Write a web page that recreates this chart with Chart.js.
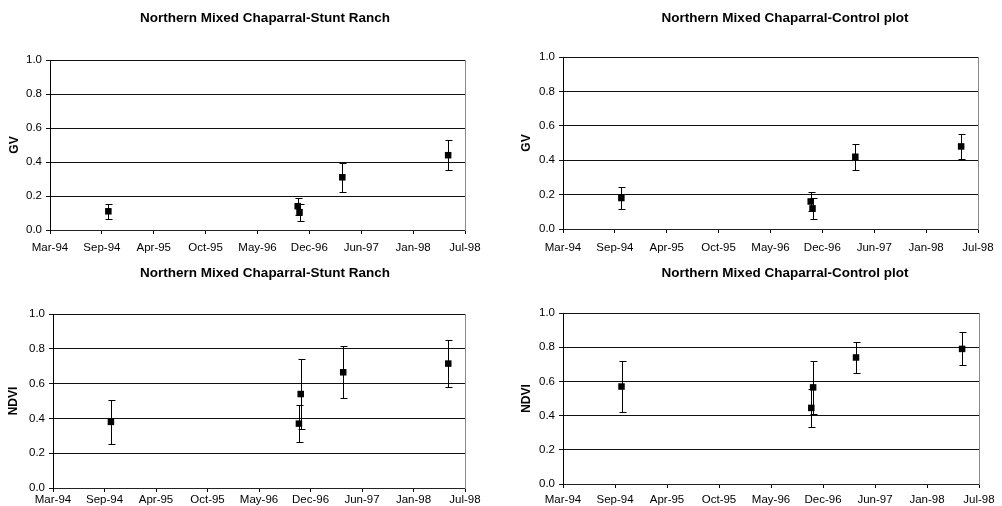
<!DOCTYPE html>
<html>
<head>
<meta charset="utf-8">
<script src="https://cdn.jsdelivr.net/npm/chart.js@4.4.1/dist/chart.umd.min.js"></script>
<style>
  html, body { margin: 0; padding: 0; background: #fff; overflow: hidden; }
  body { position: relative; width: 1002px; height: 506px; }
  canvas { position: absolute; }
</style>
</head>
<body>
<canvas id="gvStunt" width="530" height="262" style="left:0;top:0"></canvas>
<canvas id="gvControl" width="550" height="262" style="left:510px;top:0"></canvas>
<canvas id="ndviStunt" width="530" height="250" style="left:0;top:256px"></canvas>
<canvas id="ndviControl" width="550" height="250" style="left:510px;top:256px"></canvas>
<script>
// sampling dates (same five visits for every panel)
const sampleDates = ['1994-10-18', '1996-10-17', '1996-10-24', '1997-04-07', '1998-05-20'];

// GV, Stunt Ranch
const gvStuntMean = [0.11, 0.14, 0.105, 0.31, 0.44];
const gvStuntErr = [0.045, 0.05, 0.05, 0.085, 0.088];

// GV, control plot
const gvControlMean = [0.18, 0.16, 0.12, 0.42, 0.48];
const gvControlErr = [0.062, 0.055, 0.06, 0.076, 0.074];

// NDVI, Stunt Ranch
const ndviStuntMean = [0.38, 0.37, 0.54, 0.665, 0.715];
const ndviStuntErr = [0.125, 0.105, 0.2, 0.15, 0.135];

// NDVI, control plot
const ndviControlMean = [0.57, 0.445, 0.565, 0.74, 0.79];
const ndviControlErr = [0.15, 0.113, 0.155, 0.09, 0.097];

// x axis in spreadsheet day numbers: 34400 (Mar-94) .. 36000 (Jul-98), every 200 days
const xMin = 34400, xMax = 36000, xStep = 200;
const yTicks = [0, 0.2, 0.4, 0.6, 0.8, 1.0];

const months = ['Jan','Feb','Mar','Apr','May','Jun','Jul','Aug','Sep','Oct','Nov','Dec'];
const epoch = Date.UTC(1899, 11, 30);
const toSerial = iso => (Date.parse(iso) - epoch) / 86400000;
const serialLabel = v => {
  const d = new Date(epoch + v * 86400000);
  return months[d.getUTCMonth()] + '-' + String(d.getUTCFullYear()).slice(2);
};

Chart.defaults.color = '#000';
Chart.defaults.font.family = "'Liberation Sans', Arial, sans-serif";

// vertical error bars with little caps, drawn under the markers
const errorBars = {
  id: 'errorBars',
  beforeDatasetsDraw(chart) {
    const { ctx, scales: { x, y } } = chart;
    const ds = chart.data.datasets[0];
    ctx.save();
    ctx.strokeStyle = '#000';
    ctx.lineWidth = 1;
    ds.data.forEach((p, i) => {
      const px = Math.round(x.getPixelForValue(p.x)) + 0.5;
      const top = Math.round(y.getPixelForValue(p.y + ds.errors[i])) + 0.5;
      const bot = Math.round(y.getPixelForValue(p.y - ds.errors[i])) + 0.5;
      ctx.beginPath();
      ctx.moveTo(px, top); ctx.lineTo(px, bot);
      ctx.moveTo(px - 3, top); ctx.lineTo(px + 4, top);
      ctx.moveTo(px - 3, bot); ctx.lineTo(px + 4, bot);
      ctx.stroke();
    });
    ctx.restore();
  }
};

function makePanel(id, title, yLabel, means, errs, g) {
  const points = sampleDates.map((d, i) => ({ x: toSerial(d), y: means[i] }));
  return new Chart(document.getElementById(id), {
    type: 'scatter',
    data: {
      datasets: [{
        data: points,
        errors: errs,
        pointStyle: 'rect',
        pointRadius: 4.6,
        pointHoverRadius: 4.6,
        borderWidth: 0,
        backgroundColor: '#000',
        borderColor: '#000'
      }]
    },
    options: {
      responsive: false,
      animation: false,
      events: [],
      layout: { padding: 0 },
      plugins: {
        legend: { display: false },
        tooltip: { enabled: false },
        title: {
          display: true,
          text: title,
          font: { size: 13.5, weight: 'bold' },
          padding: { top: g.titleTop, bottom: g.titleBottom }
        }
      },
      scales: {
        x: {
          type: 'linear',
          min: xMin,
          max: xMax,
          afterFit: s => { s.height = g.xH; },
          ticks: {
            stepSize: xStep,
            autoSkip: false,
            maxRotation: 0,
            padding: g.xPad,
            font: { size: 11.5 },
            callback: v => serialLabel(v)
          },
          grid: { drawOnChartArea: false, drawTicks: true, tickLength: 4, color: '#000' },
          border: { display: true, color: '#222', width: 1 }
        },
        y: {
          min: 0,
          max: 1,
          afterFit: s => { s.width = g.yW; },
          afterBuildTicks: s => { s.ticks = yTicks.map(v => ({ value: v })); },
          ticks: {
            padding: 4,
            font: { size: 11.5 },
            callback: v => Number(v).toFixed(1)
          },
          grid: { color: '#111', lineWidth: 1, tickLength: 4 },
          border: { display: true, color: '#000', width: 1 },
          title: {
            display: true,
            text: yLabel,
            font: { size: 12, weight: 'bold' },
            padding: { top: g.yTitlePad, bottom: 0 }
          }
        },
        frame: {
          type: 'linear',
          position: 'right',
          min: 0,
          max: 1,
          afterFit: s => { s.width = g.rightW; },
          ticks: { display: false },
          grid: { display: false },
          border: { display: true, color: '#8a8a8a', width: 1 }
        }
      }
    },
    plugins: [errorBars]
  });
}

makePanel('gvStunt', 'Northern Mixed Chaparral-Stunt Ranch', 'GV', gvStuntMean, gvStuntErr,
  { yW: 50, rightW: 65, xH: 32, titleTop: 9.9, titleBottom: 33.9, yTitlePad: 7.8, xPad: 7.1 });
makePanel('gvControl', 'Northern Mixed Chaparral-Control plot', 'GV', gvControlMean, gvControlErr,
  { yW: 53, rightW: 82, xH: 33, titleTop: 9.9, titleBottom: 30.9, yTitlePad: 9.8, xPad: 8.1 });
makePanel('ndviStunt', 'Northern Mixed Chaparral-Stunt Ranch', 'NDVI', ndviStuntMean, ndviStuntErr,
  { yW: 53, rightW: 65, xH: 18, titleTop: 8.9, titleBottom: 32.9, yTitlePad: 6.8, xPad: 1.1 });
makePanel('ndviControl', 'Northern Mixed Chaparral-Control plot', 'NDVI', ndviControlMean, ndviControlErr,
  { yW: 53, rightW: 81, xH: 22, titleTop: 8.9, titleBottom: 31.9, yTitlePad: 9.8, xPad: 4.6 });
</script>
</body>
</html>
